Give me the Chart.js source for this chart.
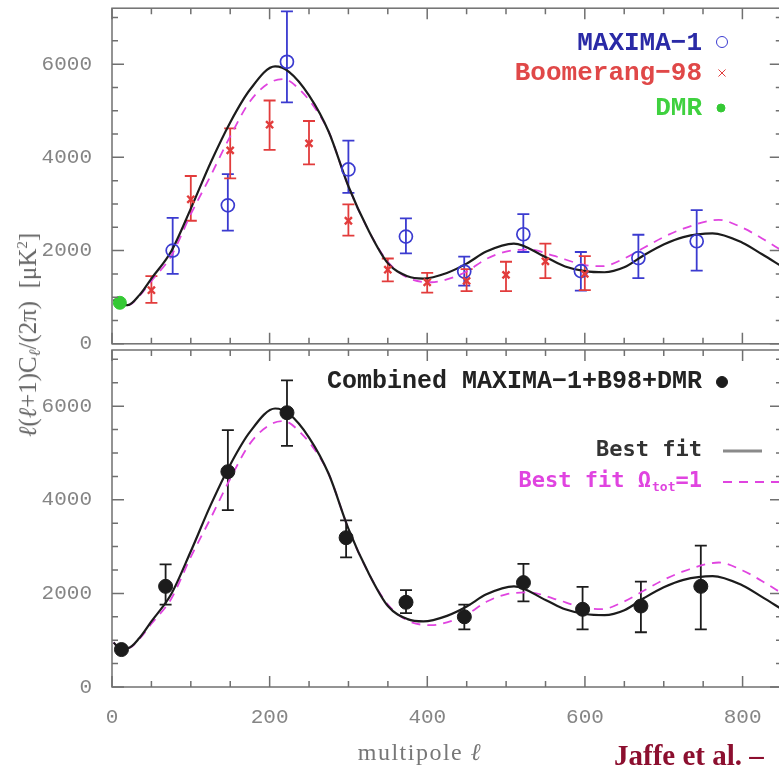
<!DOCTYPE html>
<html>
<head>
<meta charset="utf-8">
<script src="https://cdn.jsdelivr.net/npm/chart.js@4.4.1/dist/chart.umd.min.js"></script>
<style>
    body { margin: 0; background: #fff; }
    #wrap { position: relative; width: 779px; height: 768px; overflow: hidden; background: #fff; }
    #topBox { position: absolute; left: 0; top: 0; }
    #botBox { position: absolute; left: 0; top: 342px; }
    #ytitle {
        position: absolute; left: 29px; top: 335px;
        transform: translate(-50%, -50%) rotate(-90deg);
        font: 25px "Liberation Serif", serif; color: #666; white-space: nowrap;
    }
    #ytitle sub { font-size: 16px; vertical-align: -4px; }
    #ytitle sup { font-size: 15px; vertical-align: 9px; }
    #xtitle {
        position: absolute; left: 420px; top: 752px;
        transform: translate(-50%, -50%);
        font: 24px "Liberation Serif", serif; color: #777; letter-spacing: 1.5px; white-space: nowrap;
    }
    #credit {
        position: absolute; left: 614px; top: 741px;
        font: bold 29px "Liberation Serif", serif; color: #8c0f2f; white-space: nowrap; line-height: 1;
    }
</style>
</head>
<body>
<div id="wrap">
    <div id="topBox"><canvas id="topChart" width="790" height="352"></canvas></div>
    <div id="botBox"><canvas id="botChart" width="790" height="426"></canvas></div>
    <div id="ytitle"><i>ℓ</i>(<i>ℓ</i>+1)C<sub><i>ℓ</i></sub>/(2π) &nbsp;[μK<sup>2</sup>]</div>
    <div id="xtitle">multipole <i>ℓ</i></div>
    <div id="credit">Jaffe et al. – </div>
</div>
<script>
    // axis ranges and tick marks
    const xMax = 850;
    const yMax = 7200;
    const xTickLabels = [0, 200, 400, 600, 800];
    const yTickLabels = [0, 2000, 4000, 6000];
    const xMajorStep = 200, xMinorStep = 50;
    const yMajorStep = 2000, yMinorStep = 500;

    // best fit model spectrum
    const fitL     = [2, 10, 20, 35, 50, 75, 100, 125, 150, 175, 207, 225, 250, 275, 300, 325, 350, 375, 395, 425, 450, 475, 510, 550, 575, 600, 625, 650, 675, 700, 725, 762, 800, 825, 850];
    const fitPower = [950, 830, 830, 1050, 1400, 1980, 2900, 3880, 4750, 5450, 5950, 5830, 5330, 4550, 3380, 2450, 1730, 1450, 1400, 1520, 1720, 1980, 2150, 1860, 1660, 1560, 1535, 1640, 1900, 2130, 2290, 2370, 2170, 1920, 1660];

    // best fit with Omega_tot = 1
    const flatL     = [2, 10, 20, 35, 50, 75, 100, 125, 150, 175, 200, 218, 240, 260, 275, 300, 325, 350, 375, 405, 425, 450, 475, 500, 530, 560, 600, 622, 650, 675, 700, 725, 770, 800, 825, 850];
    const flatPower = [950, 830, 830, 1030, 1350, 1880, 2780, 3600, 4450, 5200, 5600, 5680, 5420, 5000, 4550, 3380, 2450, 1760, 1420, 1320, 1380, 1550, 1820, 1980, 2020, 1890, 1690, 1665, 1830, 2060, 2290, 2470, 2660, 2490, 2260, 2000];

    // MAXIMA-1 band powers
    const maximaL     = [77, 147, 222, 300, 373, 447, 522, 595, 668, 742];
    const maximaPower = [2000, 2970, 6050, 3740, 2300, 1550, 2350, 1560, 1840, 2200];
    const maximaLow   = [1500, 2430, 5180, 3240, 1940, 1250, 1970, 1140, 1410, 1570];
    const maximaHigh  = [2700, 3640, 7130, 4360, 2690, 1870, 2780, 1970, 2340, 2870];

    // Boomerang-98 band powers
    const boomL     = [50, 100, 150, 200, 250, 300, 350, 400, 450, 500, 550, 600];
    const boomPower = [1150, 3100, 4150, 4700, 4300, 2640, 1590, 1320, 1350, 1480, 1770, 1500];
    const boomLow   = [880, 2640, 3550, 4160, 3850, 2320, 1340, 1100, 1130, 1130, 1410, 1150];
    const boomHigh  = [1450, 3600, 4620, 5220, 4780, 2990, 1830, 1520, 1600, 1760, 2150, 1880];

    // COBE DMR
    const dmrL = [10];
    const dmrPower = [880];

    // combined MAXIMA-1 + B98 + DMR
    const combL     = [12, 68, 147, 222, 297, 373, 447, 522, 597, 671, 747];
    const combPower = [800, 2150, 4600, 5860, 3190, 1810, 1500, 2230, 1660, 1730, 2150];
    const combLow   = [800, 1760, 3780, 5150, 2770, 1580, 1230, 1830, 1230, 1170, 1230];
    const combHigh  = [800, 2620, 5490, 6550, 3560, 2070, 1760, 2630, 2140, 2250, 3020];

    const BLUE = '#3b3bd0', RED = '#e23c3c', GREEN = '#35c935', MAGENTA = '#e044e0', INK = '#1c1c1c';

    const pts = (xs, ys) => xs.map((l, i) => ({ x: l, y: ys[i] }));

    // vertical error bars with caps, drawn under the markers
    const errorBars = {
        id: 'errorBars',
        beforeDatasetsDraw(chart) {
            const { ctx, scales: { x, y } } = chart;
            chart.data.datasets.forEach(ds => {
                if (!ds.errLow) return;
                ctx.save();
                ctx.strokeStyle = ds.errColor;
                ctx.lineWidth = 1.8;
                ds.data.forEach((p, j) => {
                    const lo = ds.errLow[j], hi = ds.errHigh[j];
                    if (lo === hi) return;
                    const px = x.getPixelForValue(p.x);
                    const pl = y.getPixelForValue(lo), ph = y.getPixelForValue(hi);
                    ctx.beginPath();
                    ctx.moveTo(px, pl); ctx.lineTo(px, ph);
                    ctx.moveTo(px - 6, pl); ctx.lineTo(px + 6, pl);
                    ctx.moveTo(px - 6, ph); ctx.lineTo(px + 6, ph);
                    ctx.stroke();
                });
                ctx.restore();
            });
        }
    };

    // box frame with inward ticks on all four sides
    const frameTicks = {
        id: 'frameTicks',
        afterDatasetsDraw(chart) {
            const { ctx, chartArea: a, scales: { x, y } } = chart;
            ctx.save();
            ctx.strokeStyle = '#707070';
            ctx.lineWidth = 1.5;
            ctx.strokeRect(a.left, a.top, a.right - a.left, a.bottom - a.top);
            ctx.beginPath();
            for (let v = 0; v <= xMax; v += xMinorStep) {
                const px = x.getPixelForValue(v);
                const len = v % xMajorStep === 0 ? 11 : 6;
                ctx.moveTo(px, a.bottom); ctx.lineTo(px, a.bottom - len);
                ctx.moveTo(px, a.top); ctx.lineTo(px, a.top + len);
            }
            for (let v = 0; v <= yMax; v += yMinorStep) {
                const py = y.getPixelForValue(v);
                const len = v % yMajorStep === 0 ? 12 : 6;
                ctx.moveTo(a.left, py); ctx.lineTo(a.left + len, py);
                ctx.moveTo(a.right, py); ctx.lineTo(a.right - len, py);
            }
            ctx.stroke();
            ctx.restore();
        }
    };

    function marker(ctx, style, radius, stroke, fill, width, x, y) {
        ctx.save();
        ctx.strokeStyle = stroke;
        ctx.fillStyle = fill;
        Chart.helpers.drawPoint(ctx, { pointStyle: style, radius: radius, borderWidth: width, rotation: 0 }, x, y);
        ctx.restore();
    }

    const topNotes = {
        id: 'topNotes',
        afterDraw(chart) {
            const ctx = chart.ctx;
            ctx.save();
            ctx.font = 'bold 26px "Liberation Mono", monospace';
            ctx.textAlign = 'right';
            ctx.textBaseline = 'middle';
            ctx.fillStyle = '#2a2aa6'; ctx.fillText('MAXIMA−1', 702, 43);
            ctx.fillStyle = '#e04848'; ctx.fillText('Boomerang−98', 702, 73);
            ctx.fillStyle = '#3fd13f'; ctx.fillText('DMR', 702, 108);
            ctx.restore();
            marker(ctx, 'circle', 5.5, BLUE, 'rgba(0,0,0,0)', 1.6, 722, 42);
            marker(ctx, 'crossRot', 5, RED, RED, 2, 722, 73);
            marker(ctx, 'circle', 4, GREEN, GREEN, 1, 721, 108);
        }
    };

    const botNotes = {
        id: 'botNotes',
        afterDraw(chart) {
            const ctx = chart.ctx;
            const off = 342;
            ctx.save();
            ctx.textAlign = 'right';
            ctx.textBaseline = 'middle';
            ctx.font = 'bold 25px "Liberation Mono", monospace';
            ctx.fillStyle = '#222';
            ctx.fillText('Combined MAXIMA−1+B98+DMR', 702, 382 - off);

            ctx.font = 'bold 22px "DejaVu Sans Mono", monospace';
            ctx.fillStyle = '#333';
            ctx.fillText('Best fit', 702, 450 - off);

            // "Best fit Ω_tot=1", laid out right to left
            ctx.fillStyle = MAGENTA;
            let right = 702;
            ctx.fillText('=1', right, 481 - off);
            right -= ctx.measureText('=1').width;
            ctx.font = 'bold 13px "DejaVu Sans Mono", monospace';
            ctx.fillText('tot', right, 488 - off);
            right -= ctx.measureText('tot').width + 1;
            ctx.font = 'bold 22px "DejaVu Sans Mono", monospace';
            ctx.fillText('Best fit Ω', right, 481 - off);

            ctx.lineWidth = 3;
            ctx.strokeStyle = '#8a8a8a';
            ctx.beginPath(); ctx.moveTo(723, 451 - off); ctx.lineTo(762, 451 - off); ctx.stroke();
            ctx.lineWidth = 1.8;
            ctx.strokeStyle = MAGENTA;
            ctx.setLineDash([9, 7]);
            ctx.beginPath(); ctx.moveTo(723, 482 - off); ctx.lineTo(790, 482 - off); ctx.stroke();
            ctx.restore();
            marker(ctx, 'circle', 5.5, INK, INK, 1, 722, 382 - off);
        }
    };

    const curveSets = () => [
        { type: 'line', data: pts(fitL, fitPower), borderColor: INK, borderWidth: 2.2, pointRadius: 0,
          cubicInterpolationMode: 'monotone', fill: false, order: 2 },
        { type: 'line', data: pts(flatL, flatPower), borderColor: MAGENTA, borderWidth: 1.8, borderDash: [9, 7],
          pointRadius: 0, cubicInterpolationMode: 'monotone', fill: false, order: 3 }
    ];

    const tickFont = { family: '"Liberation Mono", monospace', size: 21 };

    function panelOptions(showX) {
        return {
            responsive: false,
            animation: false,
            devicePixelRatio: 1,
            layout: { padding: { top: showX ? 5 : 2, right: 6.5, left: 0, bottom: showX ? 0 : 5 } },
            plugins: { legend: { display: false }, tooltip: { enabled: false } },
            scales: {
                x: {
                    type: 'linear', min: 0, max: xMax,
                    display: showX,
                    grid: { display: false },
                    border: { display: false },
                    afterBuildTicks: s => { s.ticks = xTickLabels.map(v => ({ value: v })); },
                    afterFit: s => {
                        s.height = showX ? 81 : 0;
                        s.paddingLeft = 0; s.paddingRight = 0;
                    },
                    ticks: { padding: 10, color: '#858585', font: tickFont, callback: v => String(v) }
                },
                y: {
                    min: 0, max: yMax,
                    grid: { display: false },
                    border: { display: false },
                    afterBuildTicks: s => { s.ticks = yTickLabels.map(v => ({ value: v })); },
                    afterFit: s => {
                        s.width = 112;
                        s.paddingTop = 0; s.paddingBottom = 0;
                    },
                    ticks: { padding: 12, color: '#858585', font: tickFont, callback: v => String(v) }
                }
            }
        };
    }

    new Chart(document.getElementById('topChart'), {
        type: 'line',
        data: {
            datasets: [
                ...curveSets(),
                { data: pts(maximaL, maximaPower), showLine: false, pointStyle: 'circle', pointRadius: 6.5,
                  borderColor: BLUE, backgroundColor: 'rgba(0,0,0,0)', pointBorderWidth: 1.7,
                  errLow: maximaLow, errHigh: maximaHigh, errColor: BLUE, order: 1 },
                { data: pts(boomL, boomPower), showLine: false, pointStyle: 'crossRot', pointRadius: 5,
                  borderColor: RED, backgroundColor: RED, pointBorderWidth: 2.4,
                  errLow: boomLow, errHigh: boomHigh, errColor: RED, order: 0 },
                { data: pts(dmrL, dmrPower), showLine: false, pointStyle: 'circle', pointRadius: 6.5,
                  borderColor: GREEN, backgroundColor: GREEN, order: 0 }
            ]
        },
        options: panelOptions(false),
        plugins: [errorBars, frameTicks, topNotes]
    });

    new Chart(document.getElementById('botChart'), {
        type: 'line',
        data: {
            datasets: [
                ...curveSets(),
                { data: pts(combL, combPower), showLine: false, pointStyle: 'circle', pointRadius: 7,
                  borderColor: INK, backgroundColor: INK,
                  errLow: combLow, errHigh: combHigh, errColor: INK, order: 0 }
            ]
        },
        options: panelOptions(true),
        plugins: [errorBars, frameTicks, botNotes]
    });
</script>
</body>
</html>
